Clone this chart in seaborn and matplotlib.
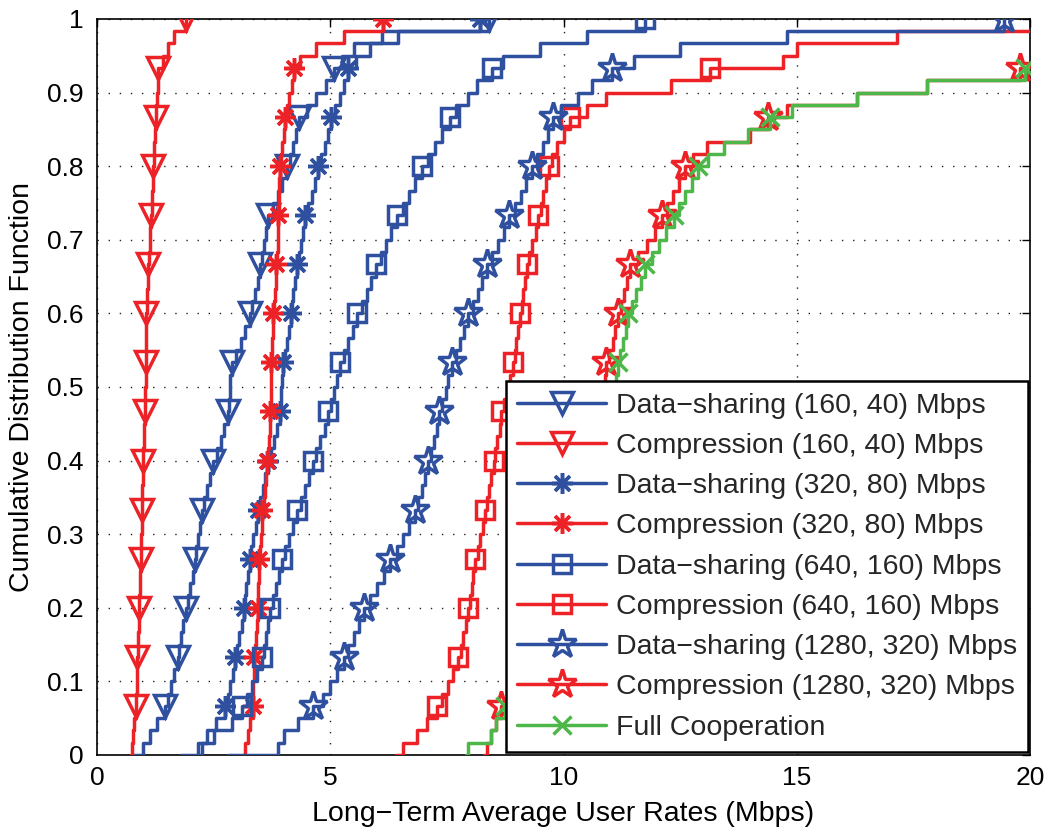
import numpy as np
import pandas as pd
import matplotlib
matplotlib.use("Agg")
import matplotlib.pyplot as plt
from matplotlib.ticker import FormatStrFormatter
import seaborn as sns

# ---------------- data (per-user long-term average rates, Mbps) ----------------
N_USERS = 60

labels = [
    "Data\u2212sharing (160, 40) Mbps",
    "Compression (160, 40) Mbps",
    "Data\u2212sharing (320, 80) Mbps",
    "Compression (320, 80) Mbps",
    "Data\u2212sharing (640, 160) Mbps",
    "Compression (640, 160) Mbps",
    "Data\u2212sharing (1280, 320) Mbps",
    "Compression (1280, 320) Mbps",
    "Full Cooperation",
]

# left end of the horizontal CDF segment at 0
starts = [0.80, 0.73, 1.80, 3.13, 2.16, 6.40, 2.81, 8.30, 7.90]

ds_160 = [0.99, 1.14, 1.28, 1.45, 1.52, 1.58, 1.65, 1.73, 1.76, 1.80, 1.85, 1.90,
          1.95, 2.00, 2.05, 2.10, 2.13, 2.16, 2.20, 2.24, 2.30, 2.36, 2.42, 2.49,
          2.57, 2.65, 2.72, 2.80, 2.82, 2.84, 2.86, 2.89, 2.98, 3.08, 3.18, 3.28,
          3.33, 3.38, 3.44, 3.49, 3.53, 3.58, 3.62, 3.67, 3.77, 3.87, 3.97, 4.07,
          4.13, 4.20, 4.26, 4.33, 4.50, 4.70, 4.90, 5.07, 5.25, 5.50, 6.10, 8.40]

cp_160 = [0.76, 0.78, 0.80, 0.83, 0.84, 0.85, 0.85, 0.86, 0.87, 0.88, 0.89, 0.90,
          0.91, 0.92, 0.93, 0.94, 0.945, 0.95, 0.955, 0.96, 0.965, 0.97, 0.975, 0.98,
          0.99, 1.00, 1.01, 1.03, 1.03, 1.035, 1.04, 1.04, 1.05, 1.05, 1.06, 1.06,
          1.07, 1.08, 1.09, 1.10, 1.11, 1.13, 1.14, 1.16, 1.17, 1.18, 1.20, 1.21,
          1.22, 1.23, 1.25, 1.26, 1.27, 1.28, 1.30, 1.31, 1.41, 1.52, 1.65, 1.90]

ds_320 = [2.16, 2.35, 2.55, 2.74, 2.80, 2.86, 2.91, 2.96, 3.00, 3.05, 3.10, 3.14,
          3.17, 3.20, 3.24, 3.27, 3.31, 3.35, 3.40, 3.44, 3.50, 3.55, 3.61, 3.67,
          3.73, 3.80, 3.86, 3.92, 3.94, 3.95, 3.97, 3.99, 4.03, 4.07, 4.11, 4.15,
          4.18, 4.21, 4.25, 4.28, 4.33, 4.37, 4.42, 4.46, 4.53, 4.60, 4.67, 4.74,
          4.81, 4.88, 4.95, 5.02, 5.11, 5.20, 5.30, 5.39, 5.55, 5.85, 6.45, 8.21]

cp_320 = [3.18, 3.23, 3.28, 3.34, 3.35, 3.35, 3.36, 3.37, 3.39, 3.41, 3.42, 3.44,
          3.45, 3.46, 3.47, 3.48, 3.50, 3.51, 3.53, 3.54, 3.57, 3.60, 3.62, 3.65,
          3.67, 3.68, 3.70, 3.71, 3.72, 3.73, 3.73, 3.74, 3.75, 3.76, 3.77, 3.78,
          3.80, 3.81, 3.83, 3.84, 3.85, 3.87, 3.88, 3.89, 3.90, 3.91, 3.91, 3.92,
          3.94, 3.97, 4.00, 4.03, 4.07, 4.12, 4.17, 4.23, 4.35, 4.70, 5.30, 6.14]

ds_640 = [2.25, 2.50, 2.90, 3.10, 3.22, 3.33, 3.43, 3.53, 3.57, 3.62, 3.66, 3.71,
          3.77, 3.83, 3.90, 3.96, 4.04, 4.12, 4.21, 4.29, 4.37, 4.45, 4.54, 4.62,
          4.70, 4.79, 4.88, 4.96, 5.02, 5.08, 5.15, 5.21, 5.30, 5.39, 5.48, 5.57,
          5.67, 5.78, 5.88, 5.99, 6.09, 6.19, 6.30, 6.42, 6.55, 6.68, 6.82, 6.96,
          7.10, 7.25, 7.40, 7.57, 7.70, 7.95, 8.15, 8.46, 8.70, 9.50, 10.50, 11.75]

cp_640 = [6.55, 6.85, 7.07, 7.28, 7.40, 7.52, 7.63, 7.74, 7.80, 7.85, 7.91, 7.96,
          8.00, 8.03, 8.07, 8.10, 8.16, 8.21, 8.27, 8.32, 8.36, 8.41, 8.45, 8.50,
          8.54, 8.58, 8.63, 8.67, 8.73, 8.80, 8.86, 8.92, 8.96, 8.99, 9.03, 9.07,
          9.10, 9.14, 9.17, 9.21, 9.27, 9.33, 9.40, 9.46, 9.51, 9.57, 9.62, 9.68,
          9.75, 9.85, 10.00, 10.14, 10.50, 10.90, 12.30, 13.14, 14.70, 15.00, 17.14, 21.00]

ds_1280 = [3.88, 4.00, 4.30, 4.64, 4.85, 5.00, 5.15, 5.29, 5.39, 5.50, 5.61, 5.72,
           5.85, 6.00, 6.15, 6.29, 6.42, 6.55, 6.68, 6.82, 6.89, 6.96, 7.03, 7.10,
           7.16, 7.22, 7.28, 7.34, 7.40, 7.47, 7.53, 7.60, 7.69, 7.78, 7.87, 7.96,
           8.06, 8.16, 8.25, 8.35, 8.47, 8.60, 8.72, 8.84, 8.96, 9.08, 9.20, 9.32,
           9.43, 9.55, 9.66, 9.78, 9.95, 10.30, 10.60, 11.03, 11.50, 12.50, 14.80, 19.44]

cp_1280 = [8.35, 8.45, 8.55, 8.67, 8.85, 9.00, 9.15, 9.30, 9.40, 9.50, 9.60, 9.70,
           9.78, 9.85, 9.92, 10.00, 10.08, 10.15, 10.22, 10.30, 10.36, 10.43, 10.49, 10.55,
           10.60, 10.65, 10.70, 10.75, 10.80, 10.84, 10.88, 10.92, 10.98, 11.05, 11.11, 11.17,
           11.24, 11.30, 11.37, 11.43, 11.60, 11.78, 11.95, 12.10, 12.22, 12.35, 12.48, 12.60,
           12.78, 13.07, 14.00, 14.39, 14.80, 16.30, 17.80, 19.79, 21.00, 22.00, 23.00, 24.00]

full_coop = [7.96, 8.45, 8.55, 8.75, 9.00, 9.20, 9.35, 9.50, 9.60, 9.70, 9.80, 9.90,
             9.98, 10.05, 10.12, 10.20, 10.28, 10.35, 10.42, 10.50, 10.56, 10.63, 10.69, 10.75,
             10.81, 10.87, 10.92, 10.98, 11.03, 11.08, 11.12, 11.17, 11.22, 11.28, 11.33, 11.39,
             11.46, 11.55, 11.65, 11.75, 11.90, 12.05, 12.20, 12.36, 12.48, 12.60, 12.75, 12.89,
             13.10, 13.43, 13.95, 14.43, 14.90, 16.30, 17.80, 19.90, 21.00, 22.00, 23.00, 24.00]

series = [ds_160, cp_160, ds_320, cp_320, ds_640, cp_640, ds_1280, cp_1280, full_coop]

# ---------------- styles ----------------
BLUE = "#2F4F9F"
RED = "#EC2227"
GREEN = "#4DB749"
colors = [BLUE, RED, BLUE, RED, BLUE, RED, BLUE, RED, GREEN]
asterisk = (8, 2, 0)
markers = ["v", "v", asterisk, asterisk, "s", "s", "*", "*", "x"]
msizes = [16, 16, 15, 15, 13, 13, 21, 21, 13]

sns.set_theme(style="white")
plt.rcParams["font.family"] = ["Liberation Sans", "DejaVu Sans"]

fig = plt.figure(figsize=(10.5, 8.31), dpi=100)
ax = fig.add_axes([0.0924, 0.0915, 0.8886, 0.8857])

for i, (samples, start) in enumerate(zip(series, starts)):
    x = np.concatenate([[start], np.sort(np.asarray(samples, dtype=float))])
    y = np.arange(len(samples) + 1) / N_USERS
    df = pd.DataFrame({"rate": x, "cdf": y})
    sns.lineplot(data=df, x="rate", y="cdf", ax=ax, estimator=None, sort=False,
                 drawstyle="steps-post", color=colors[i], linewidth=2.5,
                 marker=markers[i], markersize=msizes[i], markerfacecolor="none",
                 markeredgecolor=colors[i], markeredgewidth=2.5,
                 markevery=slice(4, None, 4), label=labels[i], zorder=3 + i)

ax.set_xlim(0, 20)
ax.set_ylim(0, 1)
ax.set_xticks([0, 5, 10, 15, 20])
ax.set_yticks(np.round(np.arange(0, 1.01, 0.1), 1))
ax.yaxis.set_major_formatter(FormatStrFormatter("%g"))
ax.xaxis.set_major_formatter(FormatStrFormatter("%g"))
ax.grid(True, color="#222222", linestyle=(0, (1, 7)), linewidth=1.0)
ax.tick_params(direction="in", length=6, width=1, top=True, right=True,
               labelsize=19, colors="black", pad=8)
ax.tick_params(axis="y", pad=10)
for sp in ax.spines.values():
    sp.set_color("black")
    sp.set_linewidth(1.2)

ax.set_xlabel("Long\u2212Term Average User Rates (Mbps)", fontsize=20.5,
              color="black", labelpad=8)
ax.set_ylabel("Cumulative Distribution Function", fontsize=20.5,
              color="black", labelpad=8)

leg = ax.legend(loc="lower right", bbox_to_anchor=(0.998, 0.004), fontsize=20.5,
                frameon=True, fancybox=False, edgecolor="black", framealpha=1,
                handlelength=3.1, handletextpad=0.35, borderpad=0.4,
                borderaxespad=0, labelspacing=0.5, numpoints=1)
leg.get_frame().set_linewidth(1.8)
leg.set_zorder(20)

fig.savefig("out.png", dpi=100)
